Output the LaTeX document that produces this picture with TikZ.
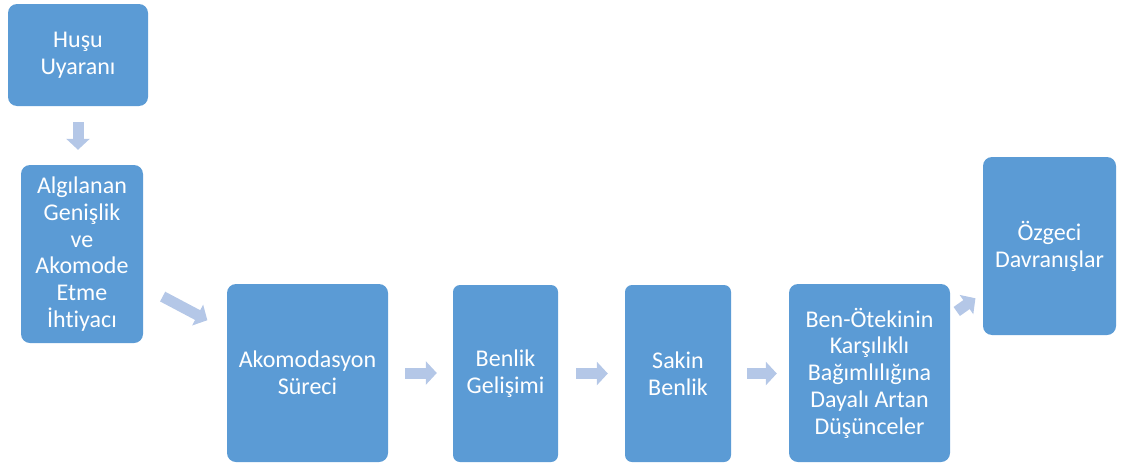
\documentclass[tikz,border=0pt]{standalone}
\usepackage{fontspec}
\setmainfont{Carlito}[Ligatures=NoCommon]
\usetikzlibrary{arrows.meta,calc}
\definecolor{boxblue}{HTML}{5B9BD5}
\definecolor{arrowblue}{HTML}{B4C7E7}
\tikzset{
  box/.style={draw=none, fill=boxblue, rounded corners=9pt, text=white, align=center,
    inner sep=0pt, font=\fontsize{24pt}{26.8pt}\selectfont},
  conn/.style={draw=arrowblue, line width=11pt,
    -{Triangle[length=11pt,width=23pt]}}
}
\begin{document}
\begin{tikzpicture}[x=1pt,y=-1pt]
\useasboundingbox (0,0) rectangle (1123,463);
\node[box, minimum width=140pt, minimum height=102pt] (n1) at (78,55) {Huşu\\Uyaranı};
\node[box, minimum width=122pt, minimum height=178pt] (n2) at (82,254) {Algılanan\\Genişlik\\ve\\Akomode\\Etme\\İhtiyacı};
\node[box, minimum width=161pt, minimum height=178pt] (n3) at (307.5,373) {Akomodasyon\\Süreci};
\node[box, minimum width=105pt, minimum height=177pt, rounded corners=7pt] (n4) at (505.5,373.5) {Benlik\\Gelişimi};
\node[box, minimum width=106pt, minimum height=177pt, rounded corners=7pt] (n5) at (678,373.5) {Sakin\\Benlik};
\node[box, minimum width=161pt, minimum height=178pt] (n6) at (869.5,373) {Ben-Ötekinin\\Karşılıklı\\Bağımlılığına\\Dayalı Artan\\Düşünceler};
\node[box, minimum width=133pt, minimum height=178pt] (n7) at (1049.5,246) {Özgeci\\Davranışlar};
\draw[conn, shorten <=16pt, shorten >=15pt] (n1.south) -- (n1.south |- n2.north);
\draw[conn, shorten <=22pt, shorten >=22pt] (n2) -- (n3);
\draw[conn, shorten <=17pt, shorten >=16pt] (n3.east) -- (n3.east -| n4.west);
\draw[conn, shorten <=18pt, shorten >=17pt] (n4.east) -- (n5.west);
\draw[conn, shorten <=16pt, shorten >=12pt] (n5.east) -- (n5.east -| n6.west);
\draw[conn, shorten <=8pt, shorten >=9pt] (n6) -- (n7);
\end{tikzpicture}
\end{document}
